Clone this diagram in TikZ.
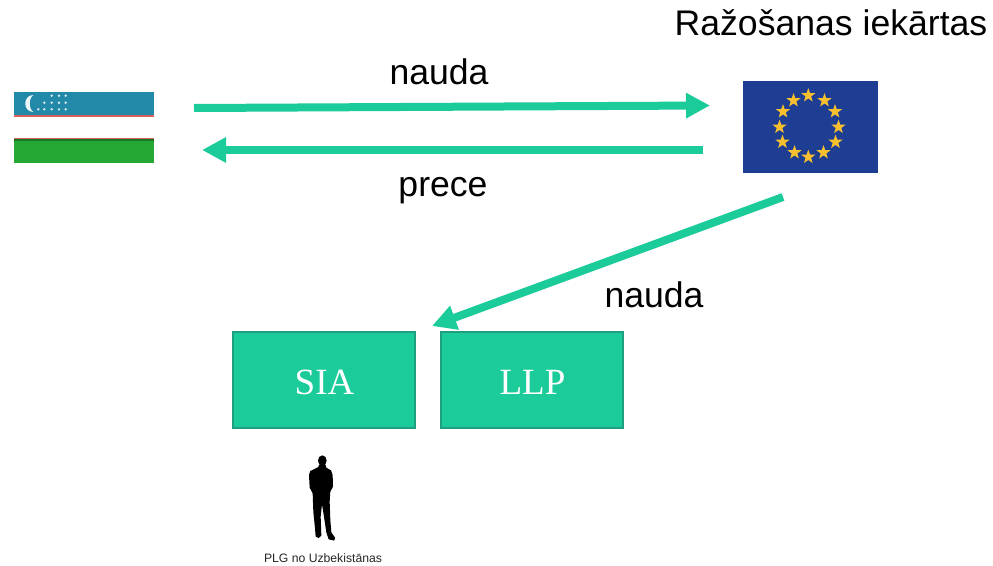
\documentclass[tikz,border=0pt]{standalone}
\usepackage{fontspec}
\setmainfont{Liberation Sans}
\newfontfamily\boxfont{Liberation Serif}
\usetikzlibrary{arrows.meta}
\definecolor{teal1}{HTML}{1CCB9A}
\definecolor{tealb}{HTML}{1F9F80}
\definecolor{eublue}{HTML}{1D3E93}
\definecolor{eustar}{HTML}{F8C02E}
\definecolor{uzblue}{HTML}{2389A8}
\definecolor{uzgreen}{HTML}{25A833}
\definecolor{uzred}{HTML}{D9605A}
\tikzset{
  x=1pt,y=-1pt,
  flow/.style={draw=teal1,line width=8pt,-{Triangle[length=24pt,width=24pt]}},
  lbl/.style={inner sep=0pt,anchor=base,font=\fontsize{35.6}{38}\selectfont,text=black},
  entity/.style={draw=tealb,line width=2pt,fill=teal1,minimum width=182pt,minimum height=96pt,inner sep=0pt},
  entitytext/.style={inner sep=0pt,text=white,font=\boxfont\fontsize{37}{40}\selectfont,anchor=base},
  flagpart/.style={inner sep=0pt,draw=none,anchor=north west},
}
\newcommand{\eustarat}[2]{\fill[eustar] (#1,#2) +(-90:7.4) \foreach \k in {1,...,9}{ -- +({-90+36*\k}:{7.4*(1-0.6*mod(\k,2))}) } -- cycle;}
\begin{document}
\begin{tikzpicture}
\useasboundingbox (0,0) rectangle (993,565);
% Uzbek flag
\node[flagpart,fill=uzblue,minimum width=140pt,minimum height=23pt] (uzt) at (14,92) {};
\fill[uzred] (14,115) rectangle (154,116.5);
\node[flagpart,fill=uzgreen,minimum width=140pt,minimum height=25pt] (uzb) at (14,138) {};
\fill[uzred] (14,138) rectangle (154,139.3);
\fill[black!30!uzgreen] (14,139.3) rectangle (154,140.5);
\fill[white!92!uzblue] (33.5,95) .. controls (22.5,95) and (22.5,112) .. (33.5,112) .. controls (28.5,109.5) and (28.5,97.5) .. (33.5,95) -- cycle;
\foreach \px/\py in {51.7/95.7,59/95.7,65.7/95.7,44.3/102.7,51.7/102.7,59/102.7,65.7/102.7,38.3/109.3,44.3/109.3,51.7/109.3,59/109.3,65.7/109.3}
  \fill[white!85!uzblue] (\px,\py) circle (1.3);
% EU flag
\node[flagpart,fill=eublue,minimum width=135pt,minimum height=92pt] (eu) at (743,81) {};
\foreach \px/\py in {808.3/95.5,824.5/100.5,835/111.5,838.5/127,835.5/142,823.5/152.5,808.3/157,794.5/152.5,782.5/142,779.5/127,783/111.5,793.5/100.5}
  {\eustarat{\px}{\py}}
% Labels
\node[lbl] (title) at (831,35) {Ražošanas iekārtas};
\node[lbl] (n1) at (439,84) {nauda};
\node[lbl] (p1) at (443,196.5) {prece};
\node[lbl] (n2) at (654,307) {nauda};
% Boxes
\node[entity] (sia) at (323.5,379.5) {};
\node[entity] (llp) at (531.5,379.5) {};
\node[entitytext] (siat) at (324.5,394) {SIA};
\node[entitytext] (llpt) at (532.5,394) {LLP};
% Connectors
\coordinate (a1s) at (194,108);
\coordinate (a1e) at (710,105.5);
\coordinate (a2s) at (703,150);
\coordinate (a2e) at (202,150);
\coordinate (a3s) at (783,197);
\coordinate (a3e) at (432,326);
\draw[flow] (a1s) -- (a1e);
\draw[flow] (a2s) -- (a2e);
\draw[flow] (a3s) -- (a3e);
% Person
\begin{scope}[shift={(250,445)},x=0.3333pt,y=-0.3333pt]
\fill[black] (217,47) ellipse (13 and 16);
\fill[black] (207,60) -- (227,60) -- (229,68) -- (243,76) -- (248,90) -- (249,125) -- (241,140) -- (239,170)
 -- (241,225) -- (244,262) -- (255,278) -- (253,287) -- (236,283) -- (229,262) -- (222,215) -- (216,178)
 -- (212,215) -- (214,272) -- (206,279) -- (197,275) -- (195,250) -- (190,200) -- (188,145) -- (179,128) -- (177,90) -- (181,78) -- (197,70) -- (205,66) -- cycle;
\end{scope}
\node[inner sep=0pt,font=\fontsize{12.2}{14}\selectfont,text=black!85] (plg) at (323,558.5) {PLG no Uzbekistānas};
\end{tikzpicture}
\end{document}
